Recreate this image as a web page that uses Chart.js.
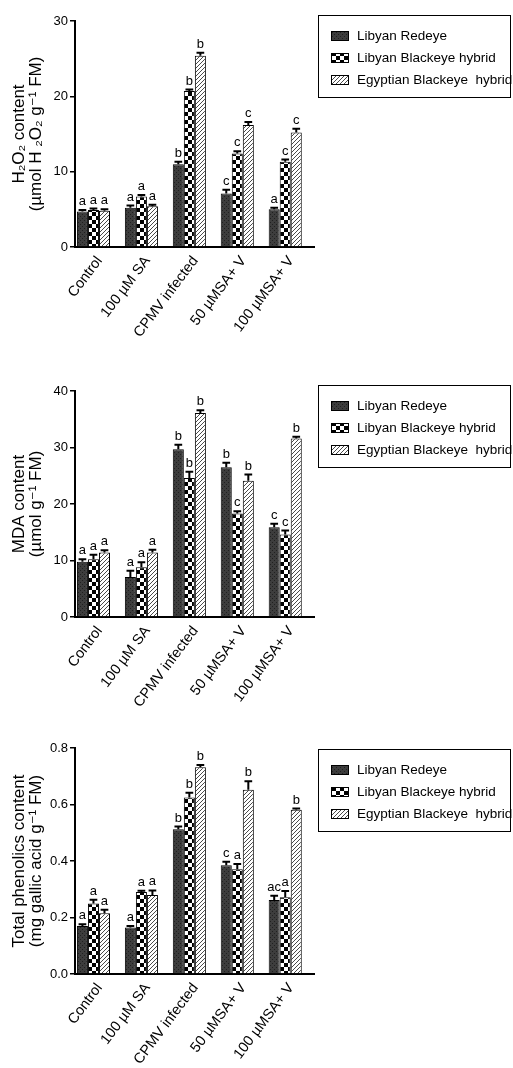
<!DOCTYPE html>
<html lang="en">
<head>
<meta charset="UTF-8">
<title>H2O2, MDA and total phenolics content</title>
<script src="https://cdn.jsdelivr.net/npm/chart.js"></script>
<style>
  body { margin: 0; background: #fff; width: 513px; height: 1068px; overflow: hidden; position: relative; }
  .panel { position: absolute; left: 0; width: 513px; height: 337px; }
</style>
</head>
<body>
<div class="panel" style="top:0px"><canvas id="h2o2Chart" width="513" height="337"></canvas></div>
<div class="panel" style="top:370px"><canvas id="mdaChart" width="513" height="337"></canvas></div>
<div class="panel" style="top:727px"><canvas id="phenolChart" width="513" height="337"></canvas></div>

<script>
// categories and series
const categories = ['Control', '100 µM SA', 'CPMV infected', '50 µMSA+ V', '100 µMSA+ V'];
const seriesNames = ['Libyan Redeye', 'Libyan Blackeye hybrid', 'Egyptian Blackeye  hybrid'];

// H2O2 content
const h2o2Redeye = [4.7, 5.2, 11.0, 7.1, 5.0];
const h2o2Blackeye = [4.9, 6.7, 20.7, 12.4, 11.3];
const h2o2Egyptian = [4.8, 5.4, 25.4, 16.2, 15.2];
const h2o2RedeyeErr = [0.2, 0.3, 0.3, 0.5, 0.2];
const h2o2BlackeyeErr = [0.2, 0.2, 0.2, 0.3, 0.3];
const h2o2EgyptianErr = [0.2, 0.2, 0.4, 0.4, 0.5];
const h2o2RedeyeLetters = ['a', 'a', 'b', 'c', 'a'];
const h2o2BlackeyeLetters = ['a', 'a', 'b', 'c', 'c'];
const h2o2EgyptianLetters = ['a', 'a', 'b', 'c', 'c'];

// MDA content
const mdaRedeye = [9.8, 7.1, 29.7, 26.5, 15.9];
const mdaBlackeye = [10.2, 8.8, 24.6, 18.3, 14.6];
const mdaEgyptian = [11.4, 11.4, 36.1, 24.1, 31.6];
const mdaRedeyeErr = [0.4, 1.1, 0.8, 0.8, 0.6];
const mdaBlackeyeErr = [0.8, 0.9, 1.1, 0.4, 0.7];
const mdaEgyptianErr = [0.4, 0.5, 0.5, 1.1, 0.3];
const mdaRedeyeLetters = ['a', 'a', 'b', 'b', 'c'];
const mdaBlackeyeLetters = ['a', 'a', 'b', 'c', 'c'];
const mdaEgyptianLetters = ['a', 'a', 'b', 'b', 'b'];

// total phenolics content
const phenolRedeye = [0.17, 0.165, 0.512, 0.385, 0.262];
const phenolBlackeye = [0.25, 0.29, 0.625, 0.371, 0.272];
const phenolEgyptian = [0.215, 0.28, 0.732, 0.652, 0.581];
const phenolRedeyeErr = [0.006, 0.005, 0.01, 0.012, 0.015];
const phenolBlackeyeErr = [0.013, 0.005, 0.017, 0.018, 0.022];
const phenolEgyptianErr = [0.012, 0.016, 0.008, 0.03, 0.005];
const phenolRedeyeLetters = ['a', 'a', 'b', 'c', 'ac'];
const phenolBlackeyeLetters = ['a', 'a', 'b', 'a', 'a'];
const phenolEgyptianLetters = ['a', 'a', 'b', 'b', 'b'];

const FONT = '"Liberation Sans", Arial, "DejaVu Sans", sans-serif';

// fill textures: stippled dark, checkerboard, diagonal hatching
function makePattern(size, draw) {
    const c = document.createElement('canvas');
    c.width = size; c.height = size;
    const g = c.getContext('2d');
    draw(g);
    return g.createPattern(c, 'repeat');
}
const patterns = [
    makePattern(4, g => {
        g.fillStyle = '#3d3d3d'; g.fillRect(0, 0, 4, 4);
        g.fillStyle = '#202020'; g.fillRect(0, 0, 1, 1); g.fillRect(2, 2, 1, 1);
    }),
    makePattern(8, g => {
        g.fillStyle = '#fff'; g.fillRect(0, 0, 8, 8);
        g.fillStyle = '#000'; g.fillRect(0, 0, 4, 4); g.fillRect(4, 4, 4, 4);
    }),
    makePattern(4, g => {
        g.fillStyle = '#fff'; g.fillRect(0, 0, 4, 4);
        g.fillStyle = '#4a4a4a';
        g.fillRect(3, 0, 1, 1); g.fillRect(2, 1, 1, 1); g.fillRect(1, 2, 1, 1); g.fillRect(0, 3, 1, 1);
    })
];

// error bars (upper only) with significance letters
const errorBarsPlugin = {
    id: 'errorBars',
    afterDatasetsDraw(chart) {
        const ctx = chart.ctx;
        const y = chart.scales.y;
        chart.data.datasets.forEach((ds, i) => {
            chart.getDatasetMeta(i).data.forEach((bar, j) => {
                const top = y.getPixelForValue(ds.data[j].y + ds.errors[j]);
                const half = bar.width * 0.35;
                ctx.save();
                ctx.strokeStyle = '#000';
                ctx.lineWidth = 2;
                ctx.beginPath();
                ctx.moveTo(bar.x, bar.y);
                ctx.lineTo(bar.x, top);
                ctx.moveTo(bar.x - half, top);
                ctx.lineTo(bar.x + half, top);
                ctx.stroke();
                ctx.fillStyle = '#000';
                ctx.font = '13px ' + FONT;
                ctx.textAlign = 'center';
                ctx.textBaseline = 'bottom';
                ctx.fillText(ds.letters[j], bar.x, top - 2);
                ctx.restore();
            });
        });
    }
};

// boxed legend on the right
const boxLegendPlugin = {
    id: 'boxLegend',
    afterDraw(chart, args, opts) {
        const ctx = chart.ctx;
        const top = opts.top;
        ctx.save();
        ctx.strokeStyle = '#000';
        ctx.lineWidth = 1;
        ctx.strokeRect(318.5, top + 0.5, 192, 82);
        chart.data.datasets.forEach((ds, i) => {
            const cy = top + 21 + i * 22;
            ctx.fillStyle = ds.backgroundColor;
            ctx.fillRect(331, cy - 5, 18, 10);
            ctx.strokeRect(331.5, cy - 4.5, 17, 9);
            ctx.fillStyle = '#000';
            ctx.font = '13.5px ' + FONT;
            ctx.textAlign = 'left';
            ctx.textBaseline = 'middle';
            ctx.fillText(ds.label, 357, cy);
        });
        ctx.restore();
    }
};

function makePanel(id, values, errors, letters, yMax, yStep, decimals, yTitle, legendTop) {
    new Chart(document.getElementById(id), {
        type: 'bar',
        data: {
            datasets: seriesNames.map((name, s) => ({
                label: name,
                data: values[s].map((v, i) => ({ x: i, y: v })),
                errors: errors[s],
                letters: letters[s],
                backgroundColor: patterns[s],
                borderColor: '#000',
                borderWidth: 1,
                categoryPercentage: 0.69,
                barPercentage: 1.0
            }))
        },
        options: {
            responsive: false,
            animation: false,
            layout: { padding: { top: 21, right: 199, left: 0, bottom: 0 } },
            plugins: {
                legend: { display: false },
                tooltip: { enabled: false },
                boxLegend: { top: legendTop }
            },
            scales: {
                x: {
                    type: 'linear',
                    min: -0.385,
                    max: 4.6,
                    offset: false,
                    afterBuildTicks: s => { s.ticks = categories.map((c, i) => ({ value: i })); },
                    afterFit: s => { s.height = 90; },
                    grid: { display: false, drawTicks: false, offset: false },
                    border: { display: true, color: '#000', width: 2 },
                    ticks: {
                        autoSkip: false,
                        minRotation: 53,
                        maxRotation: 53,
                        padding: 6,
                        labelOffset: 6,
                        color: '#000',
                        font: { size: 14.5, family: FONT },
                        callback: v => categories[v]
                    }
                },
                y: {
                    min: 0,
                    max: yMax,
                    afterFit: s => { s.width = 75; },
                    grid: { drawOnChartArea: false, drawTicks: true, tickLength: 5, color: '#000', lineWidth: 1.5 },
                    border: { color: '#000', width: 2 },
                    ticks: {
                        stepSize: yStep,
                        padding: 2,
                        color: '#000',
                        font: { size: 13, family: FONT },
                        callback: v => v.toFixed(decimals)
                    },
                    title: {
                        display: true,
                        text: yTitle,
                        color: '#000',
                        font: { size: 17, family: FONT, lineHeight: 1.0 },
                        padding: { top: 11, bottom: 0 }
                    }
                }
            }
        },
        plugins: [errorBarsPlugin, boxLegendPlugin]
    });
}

makePanel('h2o2Chart',
    [h2o2Redeye, h2o2Blackeye, h2o2Egyptian],
    [h2o2RedeyeErr, h2o2BlackeyeErr, h2o2EgyptianErr],
    [h2o2RedeyeLetters, h2o2BlackeyeLetters, h2o2EgyptianLetters],
    30, 10, 0, ['H₂O₂ content', '(µmol H ₂O₂ g⁻¹ FM)'], 15);

makePanel('mdaChart',
    [mdaRedeye, mdaBlackeye, mdaEgyptian],
    [mdaRedeyeErr, mdaBlackeyeErr, mdaEgyptianErr],
    [mdaRedeyeLetters, mdaBlackeyeLetters, mdaEgyptianLetters],
    40, 10, 0, ['MDA content', '(µmol g⁻¹ FM)'], 15);

makePanel('phenolChart',
    [phenolRedeye, phenolBlackeye, phenolEgyptian],
    [phenolRedeyeErr, phenolBlackeyeErr, phenolEgyptianErr],
    [phenolRedeyeLetters, phenolBlackeyeLetters, phenolEgyptianLetters],
    0.8, 0.2, 1, ['Total phenolics content', '(mg gallic acid g⁻¹ FM)'], 22);
</script>
</body>
</html>
